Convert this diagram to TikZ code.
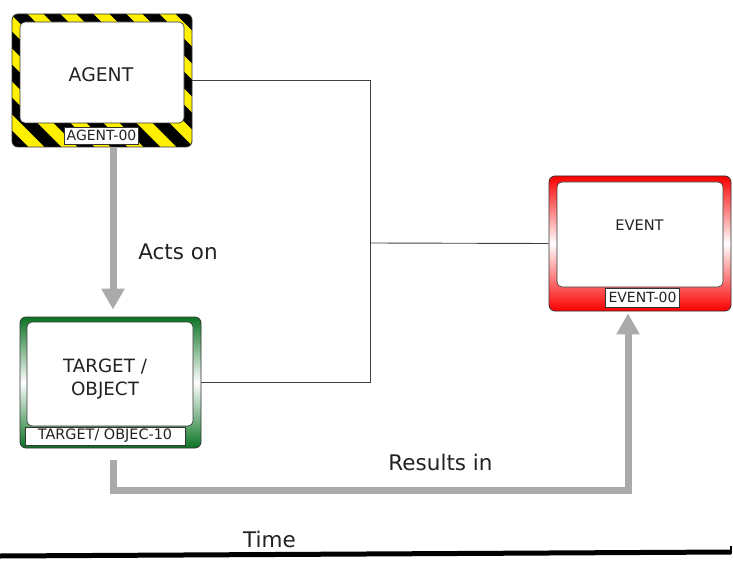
\documentclass[tikz,border=0pt]{standalone}
\usepackage{fontspec}
\setmainfont{DejaVu Sans}
\usetikzlibrary{arrows.meta}
\definecolor{hazard}{RGB}{255,240,0}
\definecolor{tgreen}{RGB}{10,115,35}
\definecolor{ered}{RGB}{250,0,0}
\definecolor{flowgray}{RGB}{170,170,170}
\definecolor{ink}{RGB}{34,34,34}

\begin{document}
\begin{tikzpicture}[x=1pt,y=-1pt,
  frame/.style={draw=black!80, line width=0.8pt, rounded corners=6pt, inner sep=0pt},
  screen/.style={draw=black!80, fill=white, line width=0.6pt, rounded corners=5pt,
                 inner sep=0pt},
  title/.style={text=ink, align=center, inner sep=0pt},
  tag/.style={draw=black!80, fill=white, line width=0.6pt, inner sep=0pt,
              font=\fontsize{14}{16}\selectfont, text=ink},
  link/.style={draw=black!75, line width=0.9pt},
  flow/.style={draw=flowgray, line width=7pt, -{Triangle[width=22pt,length=21pt]}},
  caption/.style={font=\fontsize{21.5}{25}\selectfont, text=ink}]

\useasboundingbox (0,0) rectangle (733,561);

% hazard-striped frame of the agent
\begin{scope}
  \clip[rounded corners=6pt] (12,14) rectangle (192,147);
  \fill[hazard] (12,14) rectangle (192,147);
  \foreach \s in {-160,-127,...,200}
    \draw[line width=11.7pt] (\s,0) -- (\s+170,170);
\end{scope}
\node[frame, minimum width=180pt, minimum height=133pt] (agent) at (102,80.5) {};
\node[screen, minimum width=164pt, minimum height=101pt] (agentscreen) at (102,72.5) {};
\node[title, font=\fontsize{18.8}{22}\selectfont] (agenttext) at (101,75) {AGENT};
\node[tag, minimum width=74pt, minimum height=17pt] (agenttag) at (101.5,135.5) {AGENT-00};

% target / object
\node[frame, minimum width=181pt, minimum height=131pt,
      top color=tgreen, bottom color=tgreen, middle color=white] (target) at (110.5,382.5) {};
\node[screen, minimum width=166pt, minimum height=104pt] (targetscreen) at (110,374) {};
\node[title, font=\fontsize{18.3}{22.5}\selectfont] (targettext) at (105,379) {TARGET /\\OBJECT};
\node[tag, minimum width=160pt, minimum height=18pt,
      font=\fontsize{14.4}{16}\selectfont] (targettag) at (105,436) {TARGET/ OBJEC-10};

% event
\node[frame, minimum width=182pt, minimum height=135pt,
      top color=ered, bottom color=ered, middle color=white] (event) at (640,243.5) {};
\node[screen, minimum width=166pt, minimum height=105pt] (eventscreen) at (640,234.5) {};
\node[title, font=\fontsize{14.6}{17}\selectfont] (eventtext) at (639.5,225) {EVENT};
\node[tag, minimum width=74pt, minimum height=19pt] (eventtag) at (642.5,297.5) {EVENT-00};

% thin connectors meeting at a hub
\coordinate (hub) at (370,243);
\draw[link] (agent.east) -| (hub);
\draw[link] (target.east) -| (hub);
\draw[link] (hub) -- (event.west);

% thick grey flows
\draw[flow] ([xshift=11pt]agent.south) -- ([xshift=2.5pt,yshift=7pt]target.north);
\coordinate (turn) at (628,490);
\draw[flow] ([xshift=2.5pt,yshift=-12pt]target.south) |- (turn)
            -- ([xshift=-12pt,yshift=-2pt]event.south);

\node[caption] (actson) at (178,252) {Acts on};
\node[caption] (resultsin) at (440.5,462) {Results in};

% time axis
\coordinate (t0) at (0,556);
\coordinate (t1) at (731,552);
\draw[line width=5pt] (t0) -- (t1);
\draw[line width=2pt] (731,554) -- (731,546);
\node[caption] (time) at (269.5,539) {Time};
\end{tikzpicture}
\end{document}
